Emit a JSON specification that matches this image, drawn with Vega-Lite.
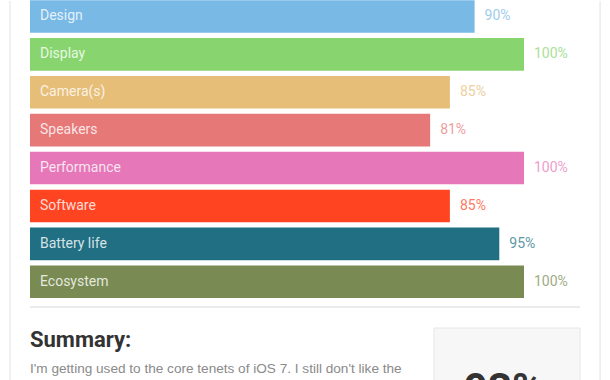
{
  "$schema": "https://vega.github.io/schema/vega-lite/v6.json",
  "width": 610,
  "height": 380,
  "autosize": {"type": "fit", "contains": "padding"},
  "padding": 0,
  "background": "#ffffff",
  "config": {"view": {"stroke": null}},
  "datasets": {
    "scores": [
      {"category": "Design", "score": 90},
      {"category": "Display", "score": 100},
      {"category": "Camera(s)", "score": 85},
      {"category": "Speakers", "score": 81},
      {"category": "Performance", "score": 100},
      {"category": "Software", "score": 85},
      {"category": "Battery life", "score": 95},
      {"category": "Ecosystem", "score": 100}
    ],
    "summary": [
      {"title": "Summary:", "body": "I'm getting used to the core tenets of iOS 7. I still don't like the", "total": "93%"}
    ]
  },
  "layer": [
    {
      "data": {"name": "scores"},
      "transform": [{"calculate": "datum.score + '%'", "as": "label"}],
      "encoding": {
        "y": {
          "field": "category",
          "type": "nominal",
          "sort": null,
          "axis": null,
          "scale": {
            "domain": ["Design", "Display", "Camera(s)", "Speakers", "Performance", "Software", "Battery life", "Ecosystem"],
            "range": [-3.5, 299.7],
            "paddingInner": 0.14,
            "paddingOuter": 0.07
          }
        },
        "color": {
          "field": "category",
          "type": "nominal",
          "legend": null,
          "scale": {
            "domain": ["Design", "Display", "Camera(s)", "Speakers", "Performance", "Software", "Battery life", "Ecosystem"],
            "range": ["#78b9e6", "#88d56f", "#e6be78", "#e67878", "#e678b9", "#ff4422", "#206f82", "#798a52"]
          }
        }
      },
      "layer": [
        {
          "mark": {"type": "bar"},
          "encoding": {
            "x": {"field": "score", "type": "quantitative", "axis": null, "scale": {"domain": [-6.07, 117.41], "nice": false, "zero": false}}
          }
        },
        {
          "mark": {"type": "text", "align": "left", "baseline": "middle", "dx": 10, "fontSize": 14, "font": "Roboto", "fillOpacity": 0.82},
          "encoding": {
            "x": {"datum": 0, "type": "quantitative"},
            "text": {"field": "category"},
            "color": {"value": "#ffffff"}
          }
        },
        {
          "mark": {"type": "text", "align": "left", "baseline": "middle", "dx": 10, "fontSize": 14, "font": "Roboto", "opacity": 0.72},
          "encoding": {
            "x": {"field": "score", "type": "quantitative"},
            "text": {"field": "label"}
          }
        }
      ]
    },
    {
      "data": {"name": "summary"},
      "layer": [
        {
          "mark": {"type": "rule", "color": "#ececec", "strokeWidth": 1.5},
          "encoding": {
            "x": {"datum": -4.05, "type": "quantitative"},
            "y": {"datum": 0, "type": "quantitative", "axis": null, "scale": {"domain": [0, 380], "range": [0, 380], "nice": false, "zero": false}},
            "y2": {"datum": 380}
          }
        },
        {
          "mark": {"type": "rule", "color": "#ececec", "strokeWidth": 1.5},
          "encoding": {
            "x": {"datum": 115.4, "type": "quantitative"},
            "y": {"datum": 0, "type": "quantitative"},
            "y2": {"datum": 380}
          }
        },
        {
          "mark": {"type": "rule", "color": "#ebebeb", "strokeWidth": 2},
          "encoding": {
            "x": {"datum": 0, "type": "quantitative"},
            "x2": {"datum": 111.34},
            "y": {"datum": 306, "type": "quantitative"}
          }
        },
        {
          "mark": {"type": "rect", "fill": "#f7f7f7", "stroke": "#e6e6e6", "strokeWidth": 1},
          "encoding": {
            "x": {"datum": 81.78, "type": "quantitative"},
            "x2": {"datum": 111.34},
            "y": {"datum": 327, "type": "quantitative"},
            "y2": {"datum": 395}
          }
        },
        {
          "mark": {"type": "text", "align": "left", "baseline": "alphabetic", "fontSize": 22, "fontWeight": "bold", "font": "Roboto", "color": "#333333"},
          "encoding": {
            "x": {"datum": 0, "type": "quantitative"},
            "y": {"datum": 346, "type": "quantitative"},
            "text": {"field": "title"}
          }
        },
        {
          "mark": {"type": "text", "align": "left", "baseline": "alphabetic", "fontSize": 13.6, "font": "Liberation Sans", "color": "#8a8a8a"},
          "encoding": {
            "x": {"datum": 0, "type": "quantitative"},
            "y": {"datum": 372, "type": "quantitative"},
            "text": {"field": "body"}
          }
        },
        {
          "mark": {"type": "text", "align": "center", "baseline": "alphabetic", "fontSize": 42, "fontWeight": "bold", "font": "Roboto", "color": "#333333"},
          "encoding": {
            "x": {"datum": 95.85, "type": "quantitative"},
            "y": {"datum": 402, "type": "quantitative"},
            "text": {"field": "total"}
          }
        }
      ]
    }
  ],
  "resolve": {"scale": {"y": "independent"}}
}
